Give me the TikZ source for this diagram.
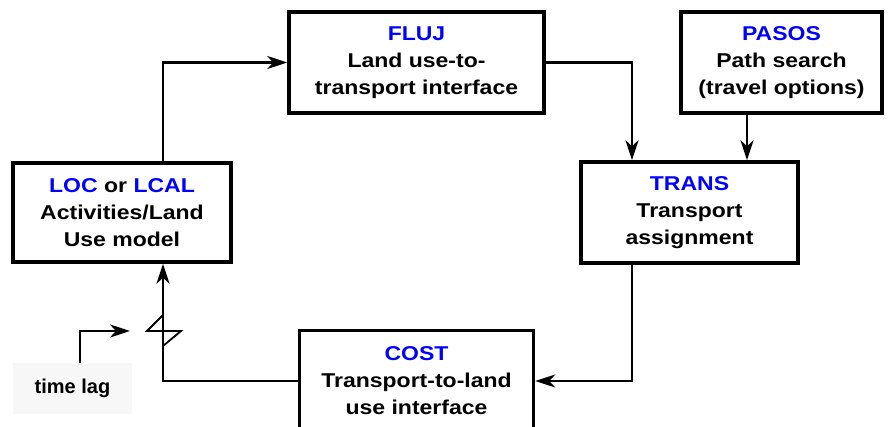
\documentclass[tikz,border=0pt]{standalone}
\usepackage{fontspec}
\setmainfont{Liberation Sans}[FakeStretch=1.15]
\newfontfamily\lagfont{Liberation Sans}
\usetikzlibrary{arrows.meta,calc}
\definecolor{codeblue}{RGB}{0,0,255}
\tikzset{
  box/.style={draw=black, line width=3.5pt, align=center, inner sep=0pt,
    font=\bfseries\fontsize{20}{27}\selectfont},
  conn/.style={line width=2.5pt, -{Stealth[length=20pt,width=13pt,inset=6pt]}}
}
\newcommand{\cde}[1]{\textcolor{codeblue}{#1}}
\begin{document}
\begin{tikzpicture}[x=1pt,y=-1pt]
\useasboundingbox (0,0) rectangle (890,427);
\node[box, minimum width=255, minimum height=101] (FLUJ) at (416.5,62.5)
  {\cde{FLUJ}\\Land use-to-\\transport interface};
\node[box, minimum width=201, minimum height=101] (PASOS) at (781.5,62.5)
  {\cde{PASOS}\\Path search\\(travel options)};
\node[box, minimum width=217, minimum height=101] (TRANS) at (689.5,212.5)
  {\cde{TRANS}\\Transport\\assignment};
\node[box, minimum width=218, minimum height=99] (LOC) at (122,212.5)
  {\cde{LOC} or \cde{LCAL}\\Activities/Land\\Use model};
\node[box, minimum width=234, minimum height=101] (COST) at (416.5,381)
  {\cde{COST}\\Transport-to-land\\use interface};
\node[fill=black!3, minimum width=119, minimum height=51, inner sep=0pt,
  font=\lagfont\bfseries\fontsize{20}{22}\selectfont] (LAG) at (72.5,388.5) {time lag};
\coordinate (cL) at (163,0);
\coordinate (cT) at (632,0);
\coordinate (cP) at (747,0);
\coordinate (cA) at (80,0);
\coordinate (cB) at (130,331);
\draw[conn] (LOC.north -| cL) |- (FLUJ.west);
\draw[conn] (FLUJ.east) -| (TRANS.north -| cT);
\draw[conn] (PASOS.south -| cP) -- (TRANS.north -| cP);
\draw[conn] (TRANS.south -| cT) |- (COST.east);
\draw[conn] (COST.west) -| (LOC.south -| cL);
\draw[line width=1.8pt] (163,315) -- (147,331) -- (181,331) -- (163,346);
\draw[conn] (LAG.north -| cA) |- (cB);
\end{tikzpicture}
\end{document}
